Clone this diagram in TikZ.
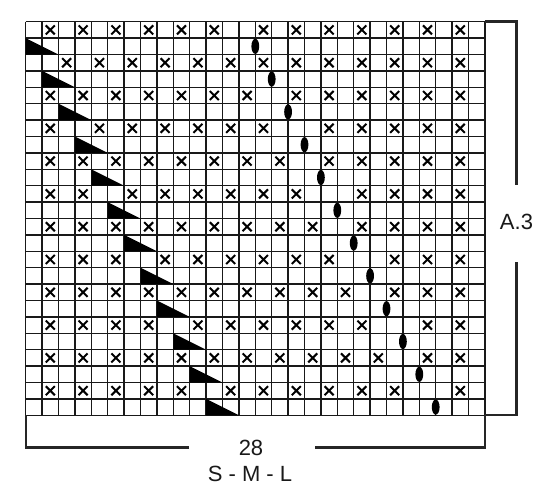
\documentclass[tikz,border=0pt]{standalone}
\usepackage{fontspec}
\setmainfont{Liberation Sans}
\begin{document}
\begin{tikzpicture}[x=1pt,y=-1pt,
  gridline/.style={line width=1.5pt, draw=black!90},
  bracket/.style={line width=2.8pt, draw=black!85},
  xmark/.style={line width=2pt, draw=black, line cap=butt},
  dectri/.style={fill=black},
  yarnover/.style={fill=black},
  lbl/.style={font=\fontsize{22}{26}\selectfont, text=black!90, inner sep=0pt}]
\useasboundingbox (0,0) rectangle (550,496);
\fill[white] (0,0) rectangle (550,496);
\def\cx{25.7}
\def\cy{21.7}
\def\cs{16.4}
% grid
\foreach \i in {0,...,28}
  \draw[gridline] ({\cx+\i*\cs},\cy) -- ({\cx+\i*\cs},{\cy+24*\cs});
\foreach \j in {0,...,24}
  \draw[gridline] (\cx,{\cy+\j*\cs}) -- ({\cx+28*\cs},{\cy+\j*\cs});
% X marks
\foreach \r/\cl in {
  1/{2,4,6,8,10,12,15,17,19,21,23,25,27},
  3/{3,5,7,9,11,13,15,17,19,21,23,25,27},
  5/{2,4,6,8,10,12,14,17,19,21,23,25,27},
  7/{2,5,7,9,11,13,15,19,21,23,25,27},
  9/{2,4,6,8,10,12,14,16,19,21,23,25,27},
  11/{2,4,7,9,11,13,15,17,21,23,25,27},
  13/{2,4,6,8,10,12,14,16,18,21,23,25,27},
  15/{2,4,6,9,11,13,15,17,19,23,25,27},
  17/{2,4,6,8,10,12,14,16,18,20,23,25,27},
  19/{2,4,6,8,11,13,15,17,19,21,25,27},
  21/{2,4,6,8,10,12,14,16,18,20,22,25,27},
  23/{2,4,6,8,10,13,15,17,19,21,23,27}}{
  \foreach \c in \cl {
    \draw[xmark] ({\cx+(\c-0.5)*\cs-4.5},{\cy+(\r-0.5)*\cs-4.5}) -- ++(9,9)
                 ({\cx+(\c-0.5)*\cs-4.5},{\cy+(\r-0.5)*\cs+4.5}) -- ++(9,-9);
  }
}
% decrease triangles and yarn-overs
\foreach \k in {1,...,12}{
  \fill[dectri] ({\cx+(\k-1)*\cs},{\cy+(2*\k-1)*\cs}) -- ({\cx+(\k-1)*\cs},{\cy+2*\k*\cs})
      -- ({\cx+(\k+1)*\cs},{\cy+2*\k*\cs}) -- cycle;
  \fill[yarnover] ({\cx+(13+\k)*\cs},{\cy+(2*\k-0.5)*\cs}) ellipse [x radius=3.9, y radius=7.6];
}
% labels
\node[lbl] (a3) at (516.5,222) {A.3};
\node[lbl] (n28) at (251,447.5) {28};
\node[lbl] (sizes) at (250,474) {S - M - L};
% brackets
\coordinate (rt) at (516.5,21.7);
\coordinate (rb) at (516.5,415);
\draw[bracket] (485,21.7) -- (rt) -- (516.5,185);
\draw[bracket] (516.5,262) -- (rb) -- (485,415);
\draw[bracket] (189,447.5) -- (26,447.5) -- (26,415);
\draw[bracket] (315,447.5) -- (485,447.5) -- (485,415);
\end{tikzpicture}
\end{document}
